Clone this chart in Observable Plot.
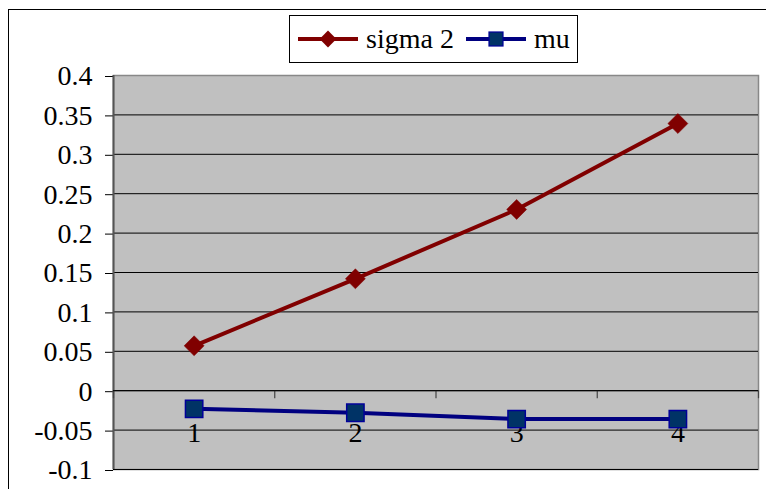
<!DOCTYPE html>
<html>
<head>
<meta charset="utf-8">
<script src="https://cdn.jsdelivr.net/npm/d3@7"></script>
<script src="https://cdn.jsdelivr.net/npm/@observablehq/plot@0.6"></script>
<style>
  html, body { margin: 0; padding: 0; background: #fff; }
  #wrap { position: relative; width: 766px; height: 489px; overflow: hidden; font-family: 'Liberation Serif', serif; }
  #frame { position: absolute; left: 8px; top: 9px; width: 800px; height: 600px; border-left: 1px solid #000; border-top: 1px solid #000; }
  #legend { position: absolute; left: 289px; top: 15px; width: 287px; height: 46px; border: 1px solid #000; background: #fff; display: flex; align-items: center; font-size: 28px; color: #000; font-family: 'Liberation Serif', serif; }
  #legend .item { display: flex; align-items: center; }
  #legend svg { display: block; }
  #chart { position: absolute; left: 0; top: 0; }
  #chart svg, #chart svg text { font-family: 'Liberation Serif', serif !important; }
</style>
</head>
<body>
<div id="wrap">
  <div id="frame"></div>
  <div id="chart"></div>
  <div id="legend"></div>
</div>
<script>
const categories = [1, 2, 3, 4];
const sigma2 = [0.057, 0.142, 0.23, 0.339];
const mu = [-0.023, -0.028, -0.036, -0.036];
const yTicks = [-0.1, -0.05, 0, 0.05, 0.1, 0.15, 0.2, 0.25, 0.3, 0.35, 0.4];
const seriesNames = ["sigma 2", "mu"];
const colors = { sigma: "#800000", mu: "#000080", muFill: "#003366", muStroke: "#000099" };

const sigmaData = categories.map((c, i) => ({ x: c, y: sigma2[i] }));
const muData = categories.map((c, i) => ({ x: c, y: mu[i] }));
const boundaries = d3.range(categories.length + 1).map(i => categories[0] - 0.5 + i);
const gridVals = yTicks.filter(v => v !== 0.4);

const chart = Plot.plot({
  width: 766,
  height: 489,
  marginLeft: 113,
  marginRight: 8,
  marginTop: 75,
  marginBottom: 20,
  style: { background: "transparent", overflow: "visible", fontFamily: "'Liberation Serif', serif" },
  x: { domain: [categories[0] - 0.5, categories[categories.length - 1] + 0.5], axis: null, label: null },
  y: { domain: [-0.1, 0.4], axis: null, label: null },
  marks: [
    Plot.frame({ fill: "#C0C0C0", stroke: "#888", strokeWidth: 1.5 }),
    Plot.ruleY(gridVals, { stroke: "#000", strokeWidth: 1 }),
    Plot.axisY(yTicks, { anchor: "left", label: null, tickSize: 8, tickPadding: 13, tickFormat: d => String(d), fontSize: 28, stroke: "#000", color: "#000", dy: 1, fontFamily: "Liberation Serif" }),
    Plot.ruleX([boundaries[0]], { stroke: "#555", strokeWidth: 2 }),
    Plot.ruleX(boundaries, { y1: 0, y2: -0.0102, stroke: "#444", strokeWidth: 1.2 }),
    Plot.ruleY([0], { x1: boundaries[0], x2: boundaries[boundaries.length - 1], stroke: "#000", strokeWidth: 1 }),
    Plot.text(categories, { x: d => d, y: 0, text: d => String(d), dy: 42, fontSize: 28, fill: "#000", fontFamily: "Liberation Serif" }),
    Plot.line(sigmaData, { x: "x", y: "y", stroke: colors.sigma, strokeWidth: 4 }),
    Plot.dot(sigmaData, { x: "x", y: "y", symbol: "diamond2", r: 9, fill: colors.sigma, stroke: colors.sigma, strokeWidth: 0.5 }),
    Plot.line(muData, { x: "x", y: "y", stroke: colors.mu, strokeWidth: 4 }),
    Plot.dot(muData, { x: "x", y: "y", symbol: "square", r: 9.8, fill: colors.muFill, stroke: colors.muStroke, strokeWidth: 1.5 })
  ]
});
document.getElementById("chart").appendChild(chart);

// Legend
const legend = d3.select("#legend");
function addItem(name, kind, ml) {
  const item = legend.append("div").attr("class", "item").style("margin-left", ml + "px");
  const s = item.append("svg").attr("width", 64).attr("height", 24);
  if (kind === "sigma") {
    s.append("line").attr("x1", 2).attr("x2", 62).attr("y1", 12).attr("y2", 12).attr("stroke", colors.sigma).attr("stroke-width", 4);
    s.append("path").attr("d", d3.symbol(d3.symbolDiamond2, 180)()).attr("transform", "translate(32,12)").attr("fill", colors.sigma);
  } else {
    s.append("line").attr("x1", 2).attr("x2", 62).attr("y1", 12).attr("y2", 12).attr("stroke", colors.mu).attr("stroke-width", 4);
    s.append("rect").attr("x", 25).attr("y", 5).attr("width", 14).attr("height", 14).attr("fill", colors.muFill).attr("stroke", colors.muStroke).attr("stroke-width", 1.2);
  }
  item.append("span").style("margin-left", "6px").text(name);
}
addItem(seriesNames[0], "sigma", 6);
addItem(seriesNames[1], "mu", 10);
</script>
</body>
</html>
